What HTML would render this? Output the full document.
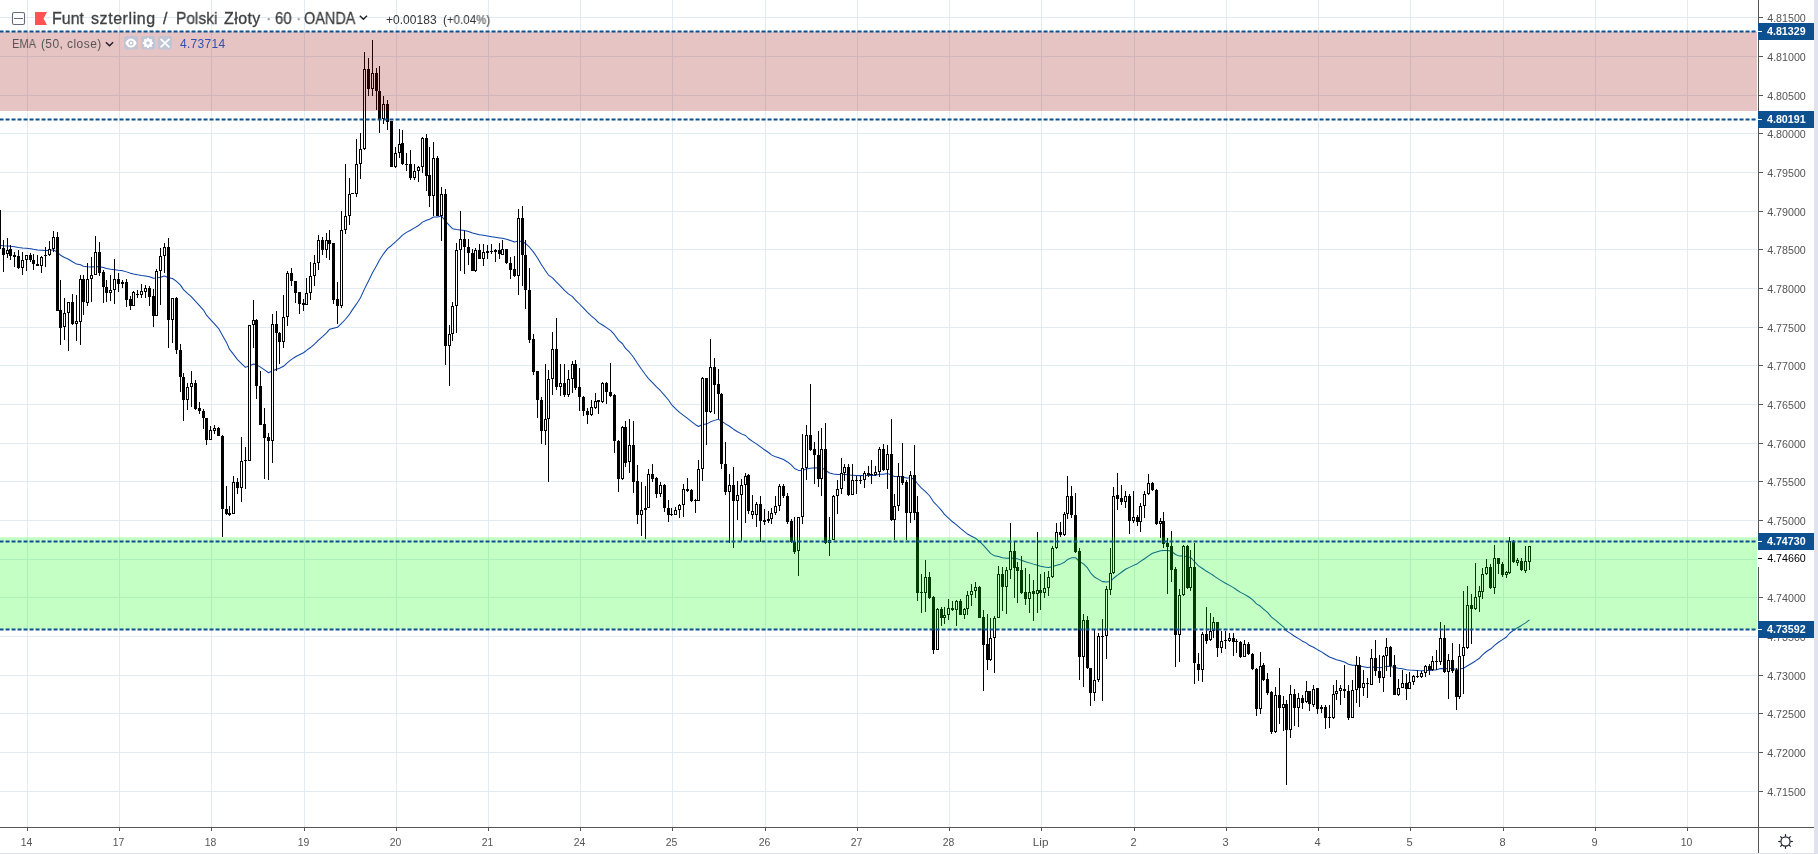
<!DOCTYPE html><html><head><meta charset="utf-8"><title>GBPPLN</title><style>
html,body{margin:0;padding:0;background:#fff;}
body{width:1818px;height:854px;overflow:hidden;position:relative;font-family:"Liberation Sans",sans-serif;}
svg{position:absolute;left:0;top:0;}
.t{position:absolute;white-space:nowrap;line-height:1;transform-origin:0 0;will-change:transform;}
.b{-webkit-text-stroke:0.3px currentColor;}
svg{will-change:transform;}

</style></head><body>
<svg width="1818" height="854" viewBox="0 0 1818 854" font-family="Liberation Sans, sans-serif">
<g stroke="#e1ecf2" stroke-width="1" shape-rendering="crispEdges">
<line x1="27.5" y1="0" x2="27.5" y2="827"/>
<line x1="119.5" y1="0" x2="119.5" y2="827"/>
<line x1="211.5" y1="0" x2="211.5" y2="827"/>
<line x1="304.5" y1="0" x2="304.5" y2="827"/>
<line x1="396.5" y1="0" x2="396.5" y2="827"/>
<line x1="488.5" y1="0" x2="488.5" y2="827"/>
<line x1="580.5" y1="0" x2="580.5" y2="827"/>
<line x1="672.5" y1="0" x2="672.5" y2="827"/>
<line x1="765.5" y1="0" x2="765.5" y2="827"/>
<line x1="857.5" y1="0" x2="857.5" y2="827"/>
<line x1="949.5" y1="0" x2="949.5" y2="827"/>
<line x1="1041.5" y1="0" x2="1041.5" y2="827"/>
<line x1="1134.5" y1="0" x2="1134.5" y2="827"/>
<line x1="1226.5" y1="0" x2="1226.5" y2="827"/>
<line x1="1318.5" y1="0" x2="1318.5" y2="827"/>
<line x1="1410.5" y1="0" x2="1410.5" y2="827"/>
<line x1="1503.5" y1="0" x2="1503.5" y2="827"/>
<line x1="1595.5" y1="0" x2="1595.5" y2="827"/>
<line x1="1687.5" y1="0" x2="1687.5" y2="827"/>
<line x1="0" y1="17.5" x2="1757" y2="17.5"/>
<line x1="0" y1="56.5" x2="1757" y2="56.5"/>
<line x1="0" y1="95.5" x2="1757" y2="95.5"/>
<line x1="0" y1="133.5" x2="1757" y2="133.5"/>
<line x1="0" y1="172.5" x2="1757" y2="172.5"/>
<line x1="0" y1="211.5" x2="1757" y2="211.5"/>
<line x1="0" y1="249.5" x2="1757" y2="249.5"/>
<line x1="0" y1="288.5" x2="1757" y2="288.5"/>
<line x1="0" y1="327.5" x2="1757" y2="327.5"/>
<line x1="0" y1="365.5" x2="1757" y2="365.5"/>
<line x1="0" y1="404.5" x2="1757" y2="404.5"/>
<line x1="0" y1="443.5" x2="1757" y2="443.5"/>
<line x1="0" y1="481.5" x2="1757" y2="481.5"/>
<line x1="0" y1="520.5" x2="1757" y2="520.5"/>
<line x1="0" y1="559.5" x2="1757" y2="559.5"/>
<line x1="0" y1="597.5" x2="1757" y2="597.5"/>
<line x1="0" y1="636.5" x2="1757" y2="636.5"/>
<line x1="0" y1="675.5" x2="1757" y2="675.5"/>
<line x1="0" y1="713.5" x2="1757" y2="713.5"/>
<line x1="0" y1="752.5" x2="1757" y2="752.5"/>
<line x1="0" y1="791.5" x2="1757" y2="791.5"/>
</g>
<polyline points="-3.3,245.20 -0.5,245.40 3.5,245.76 7.5,245.92 10.5,246.30 14.5,246.70 18.5,247.55 22.5,248.02 26.5,248.31 30.5,248.76 33.5,249.34 37.5,249.98 41.5,250.24 45.5,250.47 49.5,250.40 53.5,249.86 57.5,252.24 60.5,255.20 64.5,257.48 68.5,259.24 72.5,261.77 76.5,264.11 80.5,264.70 83.5,266.17 87.5,266.68 91.5,266.99 95.5,266.42 99.5,266.66 103.5,267.48 106.5,268.49 110.5,269.33 114.5,269.70 118.5,270.27 122.5,270.73 126.5,271.87 130.5,273.22 133.5,273.97 137.5,274.78 141.5,275.43 145.5,275.93 149.5,276.74 153.5,278.30 156.5,278.03 160.5,277.17 164.5,276.01 168.5,277.71 172.5,278.53 176.5,281.35 180.5,285.12 183.5,289.61 187.5,293.42 191.5,296.95 195.5,301.33 199.5,305.65 203.5,310.07 206.5,315.15 210.5,319.66 214.5,323.90 218.5,328.30 222.5,335.39 226.5,342.41 229.5,349.17 233.5,354.36 237.5,359.61 241.5,363.57 245.5,367.40 249.5,365.75 253.5,363.96 256.5,364.84 260.5,367.18 264.5,369.95 268.5,372.72 272.5,370.83 276.5,369.35 279.5,368.26 283.5,366.27 287.5,362.60 291.5,359.40 295.5,356.78 299.5,354.70 303.5,352.77 306.5,350.44 310.5,347.52 314.5,344.23 318.5,340.14 322.5,336.62 326.5,332.82 329.5,329.33 333.5,328.16 337.5,327.28 341.5,323.47 345.5,319.26 349.5,314.33 352.5,309.62 356.5,303.91 360.5,297.82 364.5,288.86 368.5,281.00 372.5,272.84 376.5,265.71 379.5,259.94 383.5,253.83 387.5,248.67 391.5,245.48 395.5,241.87 399.5,238.01 402.5,235.11 406.5,232.37 410.5,230.23 414.5,227.92 418.5,225.54 422.5,222.10 426.5,220.30 429.5,219.36 433.5,216.96 437.5,216.92 441.5,216.03 445.5,221.12 449.5,225.56 452.5,228.72 456.5,229.55 460.5,229.93 464.5,230.59 468.5,231.48 472.5,233.01 475.5,233.70 479.5,234.67 483.5,235.36 487.5,236.05 491.5,236.68 495.5,237.27 499.5,237.93 502.5,238.37 506.5,239.35 510.5,240.53 514.5,241.93 518.5,240.98 522.5,241.55 525.5,243.47 529.5,247.24 533.5,252.12 537.5,257.92 541.5,264.73 545.5,270.79 548.5,275.04 552.5,277.93 556.5,282.19 560.5,286.16 564.5,290.41 568.5,293.89 572.5,296.62 575.5,300.19 579.5,304.00 583.5,308.21 587.5,312.39 591.5,316.11 595.5,319.42 598.5,322.66 602.5,325.03 606.5,327.66 610.5,330.33 614.5,334.68 618.5,340.36 622.5,343.74 625.5,348.40 629.5,352.20 633.5,357.29 637.5,363.49 641.5,369.25 645.5,374.70 648.5,378.60 652.5,382.54 656.5,386.89 660.5,390.72 664.5,395.33 668.5,400.02 671.5,404.52 675.5,408.64 679.5,412.40 683.5,415.41 687.5,418.38 691.5,421.63 695.5,424.72 698.5,426.46 702.5,424.58 706.5,424.08 710.5,421.83 714.5,420.37 718.5,419.35 721.5,421.12 725.5,423.89 729.5,426.27 733.5,429.21 737.5,431.79 741.5,433.88 745.5,435.51 748.5,438.49 752.5,441.34 756.5,443.82 760.5,446.85 764.5,449.79 768.5,452.48 771.5,454.84 775.5,456.86 779.5,458.01 783.5,459.51 787.5,461.95 791.5,465.10 794.5,468.51 798.5,470.40 802.5,470.29 806.5,468.90 810.5,468.14 814.5,467.64 818.5,468.09 821.5,467.35 825.5,470.31 829.5,473.03 833.5,473.92 837.5,474.53 841.5,474.48 844.5,474.19 848.5,475.00 852.5,475.19 856.5,475.42 860.5,475.63 864.5,475.54 868.5,475.51 871.5,475.50 875.5,475.38 879.5,474.34 883.5,474.18 887.5,473.39 891.5,475.21 894.5,476.43 898.5,476.43 902.5,476.67 906.5,478.08 910.5,477.97 914.5,479.33 917.5,483.77 921.5,488.07 925.5,491.57 929.5,495.74 933.5,501.80 937.5,506.02 941.5,510.39 944.5,514.49 948.5,518.15 952.5,521.76 956.5,524.88 960.5,528.41 964.5,531.56 967.5,534.06 971.5,536.28 975.5,538.27 979.5,541.38 983.5,545.43 987.5,549.92 990.5,553.35 994.5,555.87 998.5,556.60 1002.5,557.80 1006.5,558.26 1010.5,557.97 1014.5,558.38 1017.5,558.87 1021.5,560.19 1025.5,561.70 1029.5,562.88 1033.5,564.12 1037.5,565.15 1040.5,566.22 1044.5,567.07 1048.5,567.46 1052.5,566.71 1056.5,565.34 1060.5,564.16 1064.5,562.20 1067.5,559.59 1071.5,557.86 1075.5,557.64 1079.5,561.52 1083.5,563.82 1087.5,567.93 1090.5,572.85 1094.5,577.05 1098.5,579.38 1102.5,581.63 1106.5,581.93 1110.5,581.60 1113.5,578.23 1117.5,575.11 1121.5,572.22 1125.5,569.25 1129.5,567.37 1133.5,565.40 1137.5,563.70 1140.5,561.43 1144.5,558.78 1148.5,555.81 1152.5,553.23 1156.5,552.06 1160.5,550.85 1163.5,550.58 1167.5,550.44 1171.5,551.20 1175.5,554.50 1179.5,556.10 1183.5,555.69 1187.5,556.95 1190.5,557.36 1194.5,561.52 1198.5,565.80 1202.5,568.47 1206.5,571.31 1210.5,573.63 1213.5,575.55 1217.5,578.40 1221.5,580.87 1225.5,583.24 1229.5,585.37 1233.5,587.60 1236.5,589.74 1240.5,592.39 1244.5,594.42 1248.5,596.77 1252.5,599.60 1256.5,603.88 1260.5,606.30 1263.5,609.18 1267.5,612.45 1271.5,617.15 1275.5,620.21 1279.5,623.66 1283.5,626.82 1286.5,630.87 1290.5,633.35 1294.5,636.26 1298.5,638.68 1302.5,641.19 1306.5,643.16 1309.5,645.55 1313.5,647.24 1317.5,649.68 1321.5,651.92 1325.5,654.50 1329.5,656.99 1333.5,658.45 1336.5,659.73 1340.5,660.85 1344.5,662.05 1348.5,664.22 1352.5,665.25 1356.5,665.22 1359.5,666.10 1363.5,666.78 1367.5,667.46 1371.5,667.09 1375.5,667.25 1379.5,667.66 1383.5,667.18 1386.5,666.37 1390.5,666.37 1394.5,667.47 1398.5,668.26 1402.5,668.86 1406.5,669.63 1409.5,670.11 1413.5,670.35 1417.5,670.61 1421.5,670.72 1425.5,670.54 1429.5,670.53 1432.5,670.17 1436.5,669.84 1440.5,668.60 1444.5,668.75 1448.5,668.39 1452.5,668.48 1456.5,669.58 1459.5,669.07 1463.5,668.21 1467.5,665.75 1471.5,663.54 1475.5,660.95 1479.5,658.21 1482.5,654.93 1486.5,651.49 1490.5,649.01 1494.5,645.46 1498.5,642.27 1502.5,639.63 1506.5,637.00 1509.5,633.23 1513.5,630.45 1517.5,627.69 1521.5,625.44 1525.5,622.90 1529.5,619.90" fill="none" stroke="#0b43a8" stroke-width="1.02" stroke-linejoin="round"/>
<g shape-rendering="crispEdges" stroke="#000" stroke-width="1">
<line x1="-0.5" y1="210" x2="-0.5" y2="249"/>
<rect x="-1.5" y="210.5" width="2" height="38" fill="#000"/>
<line x1="3.5" y1="240" x2="3.5" y2="272"/>
<rect x="2.5" y="248.5" width="2" height="6" fill="#000"/>
<line x1="7.5" y1="238" x2="7.5" y2="258"/>
<rect x="6.5" y="250.5" width="2" height="3" fill="#fff"/>
<line x1="10.5" y1="245" x2="10.5" y2="260"/>
<rect x="9.5" y="249.5" width="2" height="6" fill="#000"/>
<line x1="14.5" y1="252" x2="14.5" y2="267"/>
<rect x="13.5" y="255.5" width="2" height="1" fill="#000"/>
<line x1="18.5" y1="250" x2="18.5" y2="269"/>
<rect x="17.5" y="256.5" width="2" height="11" fill="#000"/>
<line x1="22.5" y1="252" x2="22.5" y2="275"/>
<rect x="21.5" y="260.5" width="2" height="7" fill="#fff"/>
<line x1="26.5" y1="255" x2="26.5" y2="271"/>
<rect x="25.5" y="255.5" width="2" height="4" fill="#fff"/>
<line x1="30.5" y1="253" x2="30.5" y2="262"/>
<rect x="29.5" y="255.5" width="2" height="4" fill="#000"/>
<line x1="33.5" y1="254" x2="33.5" y2="270"/>
<rect x="32.5" y="260.5" width="2" height="3" fill="#000"/>
<line x1="37.5" y1="255" x2="37.5" y2="266"/>
<rect x="36.5" y="264.5" width="2" height="1" fill="#000"/>
<line x1="41.5" y1="256" x2="41.5" y2="273"/>
<rect x="40.5" y="257.5" width="2" height="8" fill="#fff"/>
<line x1="45.5" y1="247" x2="45.5" y2="267"/>
<rect x="44.5" y="255.5" width="2" height="0.01" fill="#000"/>
<line x1="49.5" y1="241" x2="49.5" y2="256"/>
<rect x="48.5" y="249.5" width="2" height="5" fill="#fff"/>
<line x1="53.5" y1="231" x2="53.5" y2="252"/>
<rect x="52.5" y="237.5" width="2" height="11" fill="#fff"/>
<line x1="57.5" y1="232" x2="57.5" y2="311"/>
<rect x="56.5" y="237.5" width="2" height="73" fill="#000"/>
<line x1="60.5" y1="280" x2="60.5" y2="345"/>
<rect x="59.5" y="310.5" width="2" height="17" fill="#000"/>
<line x1="64.5" y1="298" x2="64.5" y2="340"/>
<rect x="63.5" y="313.5" width="2" height="13" fill="#fff"/>
<line x1="68.5" y1="302" x2="68.5" y2="351"/>
<rect x="67.5" y="302.5" width="2" height="10" fill="#fff"/>
<line x1="72.5" y1="294" x2="72.5" y2="325"/>
<rect x="71.5" y="302.5" width="2" height="21" fill="#000"/>
<line x1="76.5" y1="295" x2="76.5" y2="341"/>
<rect x="75.5" y="321.5" width="2" height="2" fill="#fff"/>
<line x1="80.5" y1="275" x2="80.5" y2="345"/>
<rect x="79.5" y="279.5" width="2" height="42" fill="#fff"/>
<line x1="83.5" y1="275" x2="83.5" y2="315"/>
<rect x="82.5" y="279.5" width="2" height="22" fill="#000"/>
<line x1="87.5" y1="263" x2="87.5" y2="306"/>
<rect x="86.5" y="279.5" width="2" height="23" fill="#fff"/>
<line x1="91.5" y1="257" x2="91.5" y2="302"/>
<rect x="90.5" y="275.5" width="2" height="3" fill="#fff"/>
<line x1="95.5" y1="236" x2="95.5" y2="275"/>
<rect x="94.5" y="252.5" width="2" height="22" fill="#fff"/>
<line x1="99.5" y1="242" x2="99.5" y2="276"/>
<rect x="98.5" y="252.5" width="2" height="20" fill="#000"/>
<line x1="103.5" y1="270" x2="103.5" y2="303"/>
<rect x="102.5" y="272.5" width="2" height="14" fill="#000"/>
<line x1="106.5" y1="280" x2="106.5" y2="302"/>
<rect x="105.5" y="287.5" width="2" height="5" fill="#000"/>
<line x1="110.5" y1="275" x2="110.5" y2="301"/>
<rect x="109.5" y="290.5" width="2" height="2" fill="#fff"/>
<line x1="114.5" y1="259" x2="114.5" y2="304"/>
<rect x="113.5" y="279.5" width="2" height="10" fill="#fff"/>
<line x1="118.5" y1="273" x2="118.5" y2="292"/>
<rect x="117.5" y="279.5" width="2" height="4" fill="#000"/>
<line x1="122.5" y1="280" x2="122.5" y2="288"/>
<rect x="121.5" y="282.5" width="2" height="1" fill="#fff"/>
<line x1="126.5" y1="279" x2="126.5" y2="307"/>
<rect x="125.5" y="282.5" width="2" height="17" fill="#000"/>
<line x1="130.5" y1="296" x2="130.5" y2="310"/>
<rect x="129.5" y="299.5" width="2" height="6" fill="#000"/>
<line x1="133.5" y1="291" x2="133.5" y2="306"/>
<rect x="132.5" y="292.5" width="2" height="13" fill="#fff"/>
<line x1="137.5" y1="290" x2="137.5" y2="298"/>
<rect x="136.5" y="294.5" width="2" height="0.01" fill="#000"/>
<line x1="141.5" y1="284" x2="141.5" y2="298"/>
<rect x="140.5" y="291.5" width="2" height="3" fill="#fff"/>
<line x1="145.5" y1="285" x2="145.5" y2="298"/>
<rect x="144.5" y="288.5" width="2" height="3" fill="#fff"/>
<line x1="149.5" y1="286" x2="149.5" y2="306"/>
<rect x="148.5" y="288.5" width="2" height="8" fill="#000"/>
<line x1="153.5" y1="289" x2="153.5" y2="327"/>
<rect x="152.5" y="296.5" width="2" height="19" fill="#000"/>
<line x1="156.5" y1="269" x2="156.5" y2="316"/>
<rect x="155.5" y="271.5" width="2" height="44" fill="#fff"/>
<line x1="160.5" y1="248" x2="160.5" y2="305"/>
<rect x="159.5" y="256.5" width="2" height="14" fill="#fff"/>
<line x1="164.5" y1="243" x2="164.5" y2="273"/>
<rect x="163.5" y="247.5" width="2" height="8" fill="#fff"/>
<line x1="168.5" y1="238" x2="168.5" y2="348"/>
<rect x="167.5" y="247.5" width="2" height="72" fill="#000"/>
<line x1="172.5" y1="298" x2="172.5" y2="343"/>
<rect x="171.5" y="298.5" width="2" height="21" fill="#fff"/>
<line x1="176.5" y1="297" x2="176.5" y2="354"/>
<rect x="175.5" y="298.5" width="2" height="51" fill="#000"/>
<line x1="180.5" y1="344" x2="180.5" y2="392"/>
<rect x="179.5" y="350.5" width="2" height="26" fill="#000"/>
<line x1="183.5" y1="373" x2="183.5" y2="421"/>
<rect x="182.5" y="377.5" width="2" height="22" fill="#000"/>
<line x1="187.5" y1="383" x2="187.5" y2="410"/>
<rect x="186.5" y="387.5" width="2" height="12" fill="#fff"/>
<line x1="191.5" y1="371" x2="191.5" y2="407"/>
<rect x="190.5" y="383.5" width="2" height="3" fill="#fff"/>
<line x1="195.5" y1="380" x2="195.5" y2="410"/>
<rect x="194.5" y="383.5" width="2" height="25" fill="#000"/>
<line x1="199.5" y1="402" x2="199.5" y2="414"/>
<rect x="198.5" y="408.5" width="2" height="2" fill="#000"/>
<line x1="203.5" y1="409" x2="203.5" y2="429"/>
<rect x="202.5" y="411.5" width="2" height="6" fill="#000"/>
<line x1="206.5" y1="418" x2="206.5" y2="445"/>
<rect x="205.5" y="418.5" width="2" height="21" fill="#000"/>
<line x1="210.5" y1="426" x2="210.5" y2="440"/>
<rect x="209.5" y="430.5" width="2" height="9" fill="#fff"/>
<line x1="214.5" y1="425" x2="214.5" y2="434"/>
<rect x="213.5" y="428.5" width="2" height="2" fill="#fff"/>
<line x1="218.5" y1="427" x2="218.5" y2="436"/>
<rect x="217.5" y="428.5" width="2" height="7" fill="#000"/>
<line x1="222.5" y1="435" x2="222.5" y2="537"/>
<rect x="221.5" y="436.5" width="2" height="72" fill="#000"/>
<line x1="226.5" y1="486" x2="226.5" y2="515"/>
<rect x="225.5" y="509.5" width="2" height="4" fill="#000"/>
<line x1="229.5" y1="506" x2="229.5" y2="516"/>
<rect x="228.5" y="513.5" width="2" height="1" fill="#000"/>
<line x1="233.5" y1="476" x2="233.5" y2="514"/>
<rect x="232.5" y="482.5" width="2" height="31" fill="#fff"/>
<line x1="237.5" y1="478" x2="237.5" y2="494"/>
<rect x="236.5" y="482.5" width="2" height="5" fill="#000"/>
<line x1="241.5" y1="437" x2="241.5" y2="502"/>
<rect x="240.5" y="461.5" width="2" height="26" fill="#fff"/>
<line x1="245.5" y1="447" x2="245.5" y2="489"/>
<rect x="244.5" y="460.5" width="2" height="0.01" fill="#000"/>
<line x1="249.5" y1="325" x2="249.5" y2="461"/>
<rect x="248.5" y="325.5" width="2" height="135" fill="#fff"/>
<line x1="253.5" y1="300" x2="253.5" y2="348"/>
<rect x="252.5" y="320.5" width="2" height="4" fill="#fff"/>
<line x1="256.5" y1="319" x2="256.5" y2="399"/>
<rect x="255.5" y="320.5" width="2" height="65" fill="#000"/>
<line x1="260.5" y1="371" x2="260.5" y2="425"/>
<rect x="259.5" y="386.5" width="2" height="38" fill="#000"/>
<line x1="264.5" y1="408" x2="264.5" y2="479"/>
<rect x="263.5" y="424.5" width="2" height="13" fill="#000"/>
<line x1="268.5" y1="433" x2="268.5" y2="480"/>
<rect x="267.5" y="437.5" width="2" height="3" fill="#000"/>
<line x1="272.5" y1="314" x2="272.5" y2="463"/>
<rect x="271.5" y="324.5" width="2" height="116" fill="#fff"/>
<line x1="276.5" y1="311" x2="276.5" y2="371"/>
<rect x="275.5" y="324.5" width="2" height="8" fill="#000"/>
<line x1="279.5" y1="332" x2="279.5" y2="364"/>
<rect x="278.5" y="333.5" width="2" height="8" fill="#000"/>
<line x1="283.5" y1="295" x2="283.5" y2="348"/>
<rect x="282.5" y="317.5" width="2" height="24" fill="#fff"/>
<line x1="287.5" y1="271" x2="287.5" y2="326"/>
<rect x="286.5" y="273.5" width="2" height="43" fill="#fff"/>
<line x1="291.5" y1="268" x2="291.5" y2="286"/>
<rect x="290.5" y="273.5" width="2" height="7" fill="#000"/>
<line x1="295.5" y1="281" x2="295.5" y2="303"/>
<rect x="294.5" y="281.5" width="2" height="11" fill="#000"/>
<line x1="299.5" y1="292" x2="299.5" y2="314"/>
<rect x="298.5" y="292.5" width="2" height="11" fill="#000"/>
<line x1="303.5" y1="299" x2="303.5" y2="311"/>
<rect x="302.5" y="303.5" width="2" height="1" fill="#000"/>
<line x1="306.5" y1="278" x2="306.5" y2="305"/>
<rect x="305.5" y="293.5" width="2" height="11" fill="#fff"/>
<line x1="310.5" y1="262" x2="310.5" y2="300"/>
<rect x="309.5" y="276.5" width="2" height="16" fill="#fff"/>
<line x1="314.5" y1="255" x2="314.5" y2="286"/>
<rect x="313.5" y="263.5" width="2" height="12" fill="#fff"/>
<line x1="318.5" y1="235" x2="318.5" y2="270"/>
<rect x="317.5" y="240.5" width="2" height="22" fill="#fff"/>
<line x1="322.5" y1="237" x2="322.5" y2="255"/>
<rect x="321.5" y="240.5" width="2" height="9" fill="#000"/>
<line x1="326.5" y1="233" x2="326.5" y2="258"/>
<rect x="325.5" y="240.5" width="2" height="9" fill="#fff"/>
<line x1="329.5" y1="230" x2="329.5" y2="260"/>
<rect x="328.5" y="240.5" width="2" height="3" fill="#000"/>
<line x1="333.5" y1="243" x2="333.5" y2="304"/>
<rect x="332.5" y="243.5" width="2" height="56" fill="#000"/>
<line x1="337.5" y1="282" x2="337.5" y2="324"/>
<rect x="336.5" y="299.5" width="2" height="6" fill="#000"/>
<line x1="341.5" y1="211" x2="341.5" y2="308"/>
<rect x="340.5" y="230.5" width="2" height="75" fill="#fff"/>
<line x1="345.5" y1="164" x2="345.5" y2="234"/>
<rect x="344.5" y="216.5" width="2" height="13" fill="#fff"/>
<line x1="349.5" y1="178" x2="349.5" y2="225"/>
<rect x="348.5" y="194.5" width="2" height="21" fill="#fff"/>
<line x1="352.5" y1="193" x2="352.5" y2="194"/>
<rect x="351.5" y="193.5" width="2" height="0.01" fill="#000"/>
<line x1="356.5" y1="139" x2="356.5" y2="197"/>
<rect x="355.5" y="164.5" width="2" height="29" fill="#fff"/>
<line x1="360.5" y1="133" x2="360.5" y2="179"/>
<rect x="359.5" y="149.5" width="2" height="14" fill="#fff"/>
<line x1="364.5" y1="52" x2="364.5" y2="150"/>
<rect x="363.5" y="69.5" width="2" height="79" fill="#fff"/>
<line x1="368.5" y1="58" x2="368.5" y2="96"/>
<rect x="367.5" y="69.5" width="2" height="19" fill="#000"/>
<line x1="372.5" y1="40" x2="372.5" y2="96"/>
<rect x="371.5" y="73.5" width="2" height="15" fill="#fff"/>
<line x1="376.5" y1="68" x2="376.5" y2="110"/>
<rect x="375.5" y="73.5" width="2" height="17" fill="#000"/>
<line x1="379.5" y1="66" x2="379.5" y2="133"/>
<rect x="378.5" y="91.5" width="2" height="27" fill="#000"/>
<line x1="383.5" y1="96" x2="383.5" y2="124"/>
<rect x="382.5" y="104.5" width="2" height="14" fill="#fff"/>
<line x1="387.5" y1="100" x2="387.5" y2="130"/>
<rect x="386.5" y="104.5" width="2" height="17" fill="#000"/>
<line x1="391.5" y1="121" x2="391.5" y2="167"/>
<rect x="390.5" y="121.5" width="2" height="45" fill="#000"/>
<line x1="395.5" y1="147" x2="395.5" y2="168"/>
<rect x="394.5" y="153.5" width="2" height="13" fill="#fff"/>
<line x1="399.5" y1="129" x2="399.5" y2="158"/>
<rect x="398.5" y="144.5" width="2" height="8" fill="#fff"/>
<line x1="402.5" y1="130" x2="402.5" y2="165"/>
<rect x="401.5" y="143.5" width="2" height="20" fill="#000"/>
<line x1="406.5" y1="153" x2="406.5" y2="171"/>
<rect x="405.5" y="164.5" width="2" height="0.01" fill="#000"/>
<line x1="410.5" y1="150" x2="410.5" y2="180"/>
<rect x="409.5" y="164.5" width="2" height="13" fill="#000"/>
<line x1="414.5" y1="164" x2="414.5" y2="180"/>
<rect x="413.5" y="171.5" width="2" height="6" fill="#fff"/>
<line x1="418.5" y1="166" x2="418.5" y2="182"/>
<rect x="417.5" y="167.5" width="2" height="3" fill="#fff"/>
<line x1="422.5" y1="137" x2="422.5" y2="173"/>
<rect x="421.5" y="138.5" width="2" height="28" fill="#fff"/>
<line x1="426.5" y1="134" x2="426.5" y2="191"/>
<rect x="425.5" y="138.5" width="2" height="37" fill="#000"/>
<line x1="429.5" y1="147" x2="429.5" y2="207"/>
<rect x="428.5" y="175.5" width="2" height="20" fill="#000"/>
<line x1="433.5" y1="142" x2="433.5" y2="216"/>
<rect x="432.5" y="158.5" width="2" height="37" fill="#fff"/>
<line x1="437.5" y1="156" x2="437.5" y2="216"/>
<rect x="436.5" y="158.5" width="2" height="57" fill="#000"/>
<line x1="441.5" y1="187" x2="441.5" y2="241"/>
<rect x="440.5" y="194.5" width="2" height="21" fill="#fff"/>
<line x1="445.5" y1="189" x2="445.5" y2="365"/>
<rect x="444.5" y="194.5" width="2" height="151" fill="#000"/>
<line x1="449.5" y1="325" x2="449.5" y2="386"/>
<rect x="448.5" y="334.5" width="2" height="11" fill="#fff"/>
<line x1="452.5" y1="302" x2="452.5" y2="341"/>
<rect x="451.5" y="306.5" width="2" height="27" fill="#fff"/>
<line x1="456.5" y1="243" x2="456.5" y2="333"/>
<rect x="455.5" y="250.5" width="2" height="55" fill="#fff"/>
<line x1="460.5" y1="211" x2="460.5" y2="271"/>
<rect x="459.5" y="239.5" width="2" height="10" fill="#fff"/>
<line x1="464.5" y1="231" x2="464.5" y2="274"/>
<rect x="463.5" y="239.5" width="2" height="7" fill="#000"/>
<line x1="468.5" y1="239" x2="468.5" y2="265"/>
<rect x="467.5" y="247.5" width="2" height="5" fill="#000"/>
<line x1="472.5" y1="249" x2="472.5" y2="271"/>
<rect x="471.5" y="253.5" width="2" height="17" fill="#000"/>
<line x1="475.5" y1="248" x2="475.5" y2="272"/>
<rect x="474.5" y="250.5" width="2" height="20" fill="#fff"/>
<line x1="479.5" y1="244" x2="479.5" y2="259"/>
<rect x="478.5" y="250.5" width="2" height="8" fill="#000"/>
<line x1="483.5" y1="244" x2="483.5" y2="266"/>
<rect x="482.5" y="252.5" width="2" height="6" fill="#fff"/>
<line x1="487.5" y1="245" x2="487.5" y2="259"/>
<rect x="486.5" y="251.5" width="2" height="1" fill="#000"/>
<line x1="491.5" y1="244" x2="491.5" y2="254"/>
<rect x="490.5" y="251.5" width="2" height="0.01" fill="#000"/>
<line x1="495.5" y1="249" x2="495.5" y2="262"/>
<rect x="494.5" y="250.5" width="2" height="1" fill="#000"/>
<line x1="499.5" y1="243" x2="499.5" y2="259"/>
<rect x="498.5" y="250.5" width="2" height="3" fill="#000"/>
<line x1="502.5" y1="240" x2="502.5" y2="255"/>
<rect x="501.5" y="249.5" width="2" height="5" fill="#fff"/>
<line x1="506.5" y1="249" x2="506.5" y2="264"/>
<rect x="505.5" y="249.5" width="2" height="13" fill="#000"/>
<line x1="510.5" y1="257" x2="510.5" y2="279"/>
<rect x="509.5" y="263.5" width="2" height="6" fill="#000"/>
<line x1="514.5" y1="256" x2="514.5" y2="277"/>
<rect x="513.5" y="269.5" width="2" height="6" fill="#000"/>
<line x1="518.5" y1="209" x2="518.5" y2="295"/>
<rect x="517.5" y="218.5" width="2" height="57" fill="#fff"/>
<line x1="522.5" y1="206" x2="522.5" y2="286"/>
<rect x="521.5" y="218.5" width="2" height="36" fill="#000"/>
<line x1="525.5" y1="240" x2="525.5" y2="309"/>
<rect x="524.5" y="255.5" width="2" height="34" fill="#000"/>
<line x1="529.5" y1="268" x2="529.5" y2="343"/>
<rect x="528.5" y="290.5" width="2" height="49" fill="#000"/>
<line x1="533.5" y1="334" x2="533.5" y2="375"/>
<rect x="532.5" y="339.5" width="2" height="32" fill="#000"/>
<line x1="537.5" y1="371" x2="537.5" y2="418"/>
<rect x="536.5" y="371.5" width="2" height="28" fill="#000"/>
<line x1="541.5" y1="397" x2="541.5" y2="444"/>
<rect x="540.5" y="400.5" width="2" height="30" fill="#000"/>
<line x1="545.5" y1="364" x2="545.5" y2="445"/>
<rect x="544.5" y="419.5" width="2" height="11" fill="#fff"/>
<line x1="548.5" y1="370" x2="548.5" y2="482"/>
<rect x="547.5" y="379.5" width="2" height="39" fill="#fff"/>
<line x1="552.5" y1="332" x2="552.5" y2="395"/>
<rect x="551.5" y="349.5" width="2" height="29" fill="#fff"/>
<line x1="556.5" y1="318" x2="556.5" y2="390"/>
<rect x="555.5" y="349.5" width="2" height="37" fill="#000"/>
<line x1="560.5" y1="364" x2="560.5" y2="396"/>
<rect x="559.5" y="383.5" width="2" height="3" fill="#fff"/>
<line x1="564.5" y1="364" x2="564.5" y2="397"/>
<rect x="563.5" y="383.5" width="2" height="11" fill="#000"/>
<line x1="568.5" y1="370" x2="568.5" y2="397"/>
<rect x="567.5" y="379.5" width="2" height="15" fill="#fff"/>
<line x1="572.5" y1="361" x2="572.5" y2="393"/>
<rect x="571.5" y="364.5" width="2" height="14" fill="#fff"/>
<line x1="575.5" y1="360" x2="575.5" y2="390"/>
<rect x="574.5" y="364.5" width="2" height="23" fill="#000"/>
<line x1="579.5" y1="368" x2="579.5" y2="411"/>
<rect x="578.5" y="387.5" width="2" height="9" fill="#000"/>
<line x1="583.5" y1="396" x2="583.5" y2="416"/>
<rect x="582.5" y="397.5" width="2" height="13" fill="#000"/>
<line x1="587.5" y1="408" x2="587.5" y2="424"/>
<rect x="586.5" y="411.5" width="2" height="3" fill="#000"/>
<line x1="591.5" y1="400" x2="591.5" y2="416"/>
<rect x="590.5" y="407.5" width="2" height="7" fill="#fff"/>
<line x1="595.5" y1="393" x2="595.5" y2="409"/>
<rect x="594.5" y="401.5" width="2" height="6" fill="#fff"/>
<line x1="598.5" y1="400" x2="598.5" y2="414"/>
<rect x="597.5" y="400.5" width="2" height="1" fill="#000"/>
<line x1="602.5" y1="382" x2="602.5" y2="403"/>
<rect x="601.5" y="383.5" width="2" height="18" fill="#fff"/>
<line x1="606.5" y1="382" x2="606.5" y2="404"/>
<rect x="605.5" y="383.5" width="2" height="8" fill="#000"/>
<line x1="610.5" y1="363" x2="610.5" y2="397"/>
<rect x="609.5" y="392.5" width="2" height="3" fill="#000"/>
<line x1="614.5" y1="394" x2="614.5" y2="453"/>
<rect x="613.5" y="395.5" width="2" height="45" fill="#000"/>
<line x1="618.5" y1="440" x2="618.5" y2="492"/>
<rect x="617.5" y="441.5" width="2" height="37" fill="#000"/>
<line x1="622.5" y1="426" x2="622.5" y2="480"/>
<rect x="621.5" y="427.5" width="2" height="51" fill="#fff"/>
<line x1="625.5" y1="421" x2="625.5" y2="467"/>
<rect x="624.5" y="427.5" width="2" height="35" fill="#000"/>
<line x1="629.5" y1="419" x2="629.5" y2="473"/>
<rect x="628.5" y="445.5" width="2" height="16" fill="#fff"/>
<line x1="633.5" y1="421" x2="633.5" y2="493"/>
<rect x="632.5" y="445.5" width="2" height="36" fill="#000"/>
<line x1="637.5" y1="465" x2="637.5" y2="524"/>
<rect x="636.5" y="481.5" width="2" height="33" fill="#000"/>
<line x1="641.5" y1="482" x2="641.5" y2="536"/>
<rect x="640.5" y="510.5" width="2" height="4" fill="#fff"/>
<line x1="645.5" y1="486" x2="645.5" y2="539"/>
<rect x="644.5" y="508.5" width="2" height="1" fill="#fff"/>
<line x1="648.5" y1="469" x2="648.5" y2="508"/>
<rect x="647.5" y="474.5" width="2" height="33" fill="#fff"/>
<line x1="652.5" y1="464" x2="652.5" y2="482"/>
<rect x="651.5" y="474.5" width="2" height="4" fill="#000"/>
<line x1="656.5" y1="477" x2="656.5" y2="498"/>
<rect x="655.5" y="478.5" width="2" height="15" fill="#000"/>
<line x1="660.5" y1="482" x2="660.5" y2="497"/>
<rect x="659.5" y="485.5" width="2" height="8" fill="#fff"/>
<line x1="664.5" y1="484" x2="664.5" y2="512"/>
<rect x="663.5" y="485.5" width="2" height="22" fill="#000"/>
<line x1="668.5" y1="500" x2="668.5" y2="522"/>
<rect x="667.5" y="508.5" width="2" height="6" fill="#000"/>
<line x1="671.5" y1="508" x2="671.5" y2="516"/>
<rect x="670.5" y="514.5" width="2" height="0.01" fill="#000"/>
<line x1="675.5" y1="507" x2="675.5" y2="515"/>
<rect x="674.5" y="510.5" width="2" height="4" fill="#fff"/>
<line x1="679.5" y1="504" x2="679.5" y2="518"/>
<rect x="678.5" y="505.5" width="2" height="4" fill="#fff"/>
<line x1="683.5" y1="484" x2="683.5" y2="517"/>
<rect x="682.5" y="489.5" width="2" height="15" fill="#fff"/>
<line x1="687.5" y1="478" x2="687.5" y2="492"/>
<rect x="686.5" y="489.5" width="2" height="1" fill="#000"/>
<line x1="691.5" y1="489" x2="691.5" y2="502"/>
<rect x="690.5" y="490.5" width="2" height="10" fill="#000"/>
<line x1="695.5" y1="499" x2="695.5" y2="513"/>
<rect x="694.5" y="500.5" width="2" height="0.01" fill="#000"/>
<line x1="698.5" y1="460" x2="698.5" y2="501"/>
<rect x="697.5" y="469.5" width="2" height="31" fill="#fff"/>
<line x1="702.5" y1="377" x2="702.5" y2="481"/>
<rect x="701.5" y="378.5" width="2" height="90" fill="#fff"/>
<line x1="706.5" y1="378" x2="706.5" y2="445"/>
<rect x="705.5" y="378.5" width="2" height="33" fill="#000"/>
<line x1="710.5" y1="339" x2="710.5" y2="413"/>
<rect x="709.5" y="367.5" width="2" height="44" fill="#fff"/>
<line x1="714.5" y1="358" x2="714.5" y2="414"/>
<rect x="713.5" y="367.5" width="2" height="17" fill="#000"/>
<line x1="718.5" y1="369" x2="718.5" y2="419"/>
<rect x="717.5" y="384.5" width="2" height="9" fill="#000"/>
<line x1="721.5" y1="393" x2="721.5" y2="469"/>
<rect x="720.5" y="394.5" width="2" height="69" fill="#000"/>
<line x1="725.5" y1="442" x2="725.5" y2="495"/>
<rect x="724.5" y="464.5" width="2" height="27" fill="#000"/>
<line x1="729.5" y1="474" x2="729.5" y2="543"/>
<rect x="728.5" y="485.5" width="2" height="6" fill="#fff"/>
<line x1="733.5" y1="467" x2="733.5" y2="548"/>
<rect x="732.5" y="485.5" width="2" height="15" fill="#000"/>
<line x1="737.5" y1="481" x2="737.5" y2="520"/>
<rect x="736.5" y="495.5" width="2" height="5" fill="#fff"/>
<line x1="741.5" y1="479" x2="741.5" y2="541"/>
<rect x="740.5" y="485.5" width="2" height="9" fill="#fff"/>
<line x1="745.5" y1="473" x2="745.5" y2="523"/>
<rect x="744.5" y="476.5" width="2" height="8" fill="#fff"/>
<line x1="748.5" y1="474" x2="748.5" y2="514"/>
<rect x="747.5" y="475.5" width="2" height="35" fill="#000"/>
<line x1="752.5" y1="495" x2="752.5" y2="519"/>
<rect x="751.5" y="511.5" width="2" height="3" fill="#fff"/>
<line x1="756.5" y1="502" x2="756.5" y2="527"/>
<rect x="755.5" y="504.5" width="2" height="10" fill="#fff"/>
<line x1="760.5" y1="496" x2="760.5" y2="542"/>
<rect x="759.5" y="504.5" width="2" height="16" fill="#000"/>
<line x1="764.5" y1="509" x2="764.5" y2="525"/>
<rect x="763.5" y="520.5" width="2" height="1" fill="#000"/>
<line x1="768.5" y1="511" x2="768.5" y2="523"/>
<rect x="767.5" y="519.5" width="2" height="1" fill="#fff"/>
<line x1="771.5" y1="508" x2="771.5" y2="524"/>
<rect x="770.5" y="513.5" width="2" height="5" fill="#fff"/>
<line x1="775.5" y1="496" x2="775.5" y2="515"/>
<rect x="774.5" y="506.5" width="2" height="6" fill="#fff"/>
<line x1="779.5" y1="484" x2="779.5" y2="511"/>
<rect x="778.5" y="486.5" width="2" height="19" fill="#fff"/>
<line x1="783.5" y1="484" x2="783.5" y2="498"/>
<rect x="782.5" y="486.5" width="2" height="9" fill="#000"/>
<line x1="787.5" y1="493" x2="787.5" y2="524"/>
<rect x="786.5" y="496.5" width="2" height="25" fill="#000"/>
<line x1="791.5" y1="519" x2="791.5" y2="543"/>
<rect x="790.5" y="521.5" width="2" height="20" fill="#000"/>
<line x1="794.5" y1="517" x2="794.5" y2="554"/>
<rect x="793.5" y="542.5" width="2" height="9" fill="#000"/>
<line x1="798.5" y1="517" x2="798.5" y2="576"/>
<rect x="797.5" y="517.5" width="2" height="33" fill="#fff"/>
<line x1="802.5" y1="434" x2="802.5" y2="524"/>
<rect x="801.5" y="468.5" width="2" height="48" fill="#fff"/>
<line x1="806.5" y1="425" x2="806.5" y2="480"/>
<rect x="805.5" y="435.5" width="2" height="32" fill="#fff"/>
<line x1="810.5" y1="384" x2="810.5" y2="451"/>
<rect x="809.5" y="435.5" width="2" height="14" fill="#000"/>
<line x1="814.5" y1="442" x2="814.5" y2="484"/>
<rect x="813.5" y="449.5" width="2" height="5" fill="#000"/>
<line x1="818.5" y1="431" x2="818.5" y2="487"/>
<rect x="817.5" y="455.5" width="2" height="23" fill="#000"/>
<line x1="821.5" y1="428" x2="821.5" y2="496"/>
<rect x="820.5" y="449.5" width="2" height="29" fill="#fff"/>
<line x1="825.5" y1="423" x2="825.5" y2="544"/>
<rect x="824.5" y="449.5" width="2" height="93" fill="#000"/>
<line x1="829.5" y1="517" x2="829.5" y2="556"/>
<rect x="828.5" y="540.5" width="2" height="2" fill="#fff"/>
<line x1="833.5" y1="495" x2="833.5" y2="540"/>
<rect x="832.5" y="496.5" width="2" height="43" fill="#fff"/>
<line x1="837.5" y1="480" x2="837.5" y2="514"/>
<rect x="836.5" y="489.5" width="2" height="6" fill="#fff"/>
<line x1="841.5" y1="458" x2="841.5" y2="494"/>
<rect x="840.5" y="473.5" width="2" height="15" fill="#fff"/>
<line x1="844.5" y1="464" x2="844.5" y2="481"/>
<rect x="843.5" y="467.5" width="2" height="5" fill="#fff"/>
<line x1="848.5" y1="464" x2="848.5" y2="496"/>
<rect x="847.5" y="467.5" width="2" height="27" fill="#000"/>
<line x1="852.5" y1="464" x2="852.5" y2="495"/>
<rect x="851.5" y="480.5" width="2" height="14" fill="#fff"/>
<line x1="856.5" y1="476" x2="856.5" y2="494"/>
<rect x="855.5" y="480.5" width="2" height="0.01" fill="#000"/>
<line x1="860.5" y1="476" x2="860.5" y2="484"/>
<rect x="859.5" y="480.5" width="2" height="0.01" fill="#000"/>
<line x1="864.5" y1="471" x2="864.5" y2="488"/>
<rect x="863.5" y="473.5" width="2" height="6" fill="#fff"/>
<line x1="868.5" y1="466" x2="868.5" y2="477"/>
<rect x="867.5" y="473.5" width="2" height="1" fill="#000"/>
<line x1="871.5" y1="460" x2="871.5" y2="484"/>
<rect x="870.5" y="474.5" width="2" height="0.01" fill="#000"/>
<line x1="875.5" y1="466" x2="875.5" y2="476"/>
<rect x="874.5" y="472.5" width="2" height="2" fill="#fff"/>
<line x1="879.5" y1="447" x2="879.5" y2="477"/>
<rect x="878.5" y="449.5" width="2" height="22" fill="#fff"/>
<line x1="883.5" y1="444" x2="883.5" y2="471"/>
<rect x="882.5" y="449.5" width="2" height="20" fill="#000"/>
<line x1="887.5" y1="445" x2="887.5" y2="489"/>
<rect x="886.5" y="454.5" width="2" height="15" fill="#fff"/>
<line x1="891.5" y1="419" x2="891.5" y2="521"/>
<rect x="890.5" y="454.5" width="2" height="65" fill="#000"/>
<line x1="894.5" y1="494" x2="894.5" y2="540"/>
<rect x="893.5" y="506.5" width="2" height="13" fill="#fff"/>
<line x1="898.5" y1="463" x2="898.5" y2="511"/>
<rect x="897.5" y="476.5" width="2" height="29" fill="#fff"/>
<line x1="902.5" y1="443" x2="902.5" y2="485"/>
<rect x="901.5" y="476.5" width="2" height="6" fill="#000"/>
<line x1="906.5" y1="480" x2="906.5" y2="540"/>
<rect x="905.5" y="482.5" width="2" height="30" fill="#000"/>
<line x1="910.5" y1="471" x2="910.5" y2="523"/>
<rect x="909.5" y="475.5" width="2" height="37" fill="#fff"/>
<line x1="914.5" y1="445" x2="914.5" y2="520"/>
<rect x="913.5" y="475.5" width="2" height="37" fill="#000"/>
<line x1="917.5" y1="496" x2="917.5" y2="601"/>
<rect x="916.5" y="512.5" width="2" height="80" fill="#000"/>
<line x1="921.5" y1="574" x2="921.5" y2="613"/>
<rect x="920.5" y="592.5" width="2" height="0.01" fill="#000"/>
<line x1="925.5" y1="560" x2="925.5" y2="612"/>
<rect x="924.5" y="577.5" width="2" height="15" fill="#fff"/>
<line x1="929.5" y1="572" x2="929.5" y2="599"/>
<rect x="928.5" y="577.5" width="2" height="20" fill="#000"/>
<line x1="933.5" y1="596" x2="933.5" y2="654"/>
<rect x="932.5" y="597.5" width="2" height="52" fill="#000"/>
<line x1="937.5" y1="608" x2="937.5" y2="650"/>
<rect x="936.5" y="609.5" width="2" height="40" fill="#fff"/>
<line x1="941.5" y1="607" x2="941.5" y2="626"/>
<rect x="940.5" y="609.5" width="2" height="8" fill="#000"/>
<line x1="944.5" y1="607" x2="944.5" y2="624"/>
<rect x="943.5" y="615.5" width="2" height="2" fill="#fff"/>
<line x1="948.5" y1="599" x2="948.5" y2="620"/>
<rect x="947.5" y="608.5" width="2" height="6" fill="#fff"/>
<line x1="952.5" y1="601" x2="952.5" y2="611"/>
<rect x="951.5" y="608.5" width="2" height="1" fill="#000"/>
<line x1="956.5" y1="600" x2="956.5" y2="626"/>
<rect x="955.5" y="601.5" width="2" height="8" fill="#fff"/>
<line x1="960.5" y1="599" x2="960.5" y2="615"/>
<rect x="959.5" y="601.5" width="2" height="13" fill="#000"/>
<line x1="964.5" y1="608" x2="964.5" y2="619"/>
<rect x="963.5" y="609.5" width="2" height="5" fill="#fff"/>
<line x1="967.5" y1="591" x2="967.5" y2="615"/>
<rect x="966.5" y="595.5" width="2" height="13" fill="#fff"/>
<line x1="971.5" y1="584" x2="971.5" y2="606"/>
<rect x="970.5" y="591.5" width="2" height="3" fill="#fff"/>
<line x1="975.5" y1="582" x2="975.5" y2="598"/>
<rect x="974.5" y="587.5" width="2" height="3" fill="#fff"/>
<line x1="979.5" y1="586" x2="979.5" y2="618"/>
<rect x="978.5" y="587.5" width="2" height="30" fill="#000"/>
<line x1="983.5" y1="610" x2="983.5" y2="691"/>
<rect x="982.5" y="617.5" width="2" height="27" fill="#000"/>
<line x1="987.5" y1="614" x2="987.5" y2="670"/>
<rect x="986.5" y="644.5" width="2" height="15" fill="#000"/>
<line x1="990.5" y1="618" x2="990.5" y2="661"/>
<rect x="989.5" y="638.5" width="2" height="21" fill="#fff"/>
<line x1="994.5" y1="616" x2="994.5" y2="673"/>
<rect x="993.5" y="618.5" width="2" height="19" fill="#fff"/>
<line x1="998.5" y1="566" x2="998.5" y2="618"/>
<rect x="997.5" y="574.5" width="2" height="43" fill="#fff"/>
<line x1="1002.5" y1="567" x2="1002.5" y2="611"/>
<rect x="1001.5" y="574.5" width="2" height="12" fill="#000"/>
<line x1="1006.5" y1="567" x2="1006.5" y2="614"/>
<rect x="1005.5" y="570.5" width="2" height="16" fill="#fff"/>
<line x1="1010.5" y1="523" x2="1010.5" y2="579"/>
<rect x="1009.5" y="551.5" width="2" height="18" fill="#fff"/>
<line x1="1014.5" y1="541" x2="1014.5" y2="598"/>
<rect x="1013.5" y="551.5" width="2" height="16" fill="#000"/>
<line x1="1017.5" y1="562" x2="1017.5" y2="603"/>
<rect x="1016.5" y="567.5" width="2" height="3" fill="#000"/>
<line x1="1021.5" y1="556" x2="1021.5" y2="594"/>
<rect x="1020.5" y="570.5" width="2" height="22" fill="#000"/>
<line x1="1025.5" y1="568" x2="1025.5" y2="605"/>
<rect x="1024.5" y="592.5" width="2" height="6" fill="#000"/>
<line x1="1029.5" y1="574" x2="1029.5" y2="613"/>
<rect x="1028.5" y="592.5" width="2" height="6" fill="#fff"/>
<line x1="1033.5" y1="580" x2="1033.5" y2="621"/>
<rect x="1032.5" y="591.5" width="2" height="2" fill="#000"/>
<line x1="1037.5" y1="532" x2="1037.5" y2="613"/>
<rect x="1036.5" y="590.5" width="2" height="3" fill="#fff"/>
<line x1="1040.5" y1="574" x2="1040.5" y2="610"/>
<rect x="1039.5" y="590.5" width="2" height="2" fill="#000"/>
<line x1="1044.5" y1="572" x2="1044.5" y2="598"/>
<rect x="1043.5" y="588.5" width="2" height="4" fill="#fff"/>
<line x1="1048.5" y1="571" x2="1048.5" y2="596"/>
<rect x="1047.5" y="577.5" width="2" height="10" fill="#fff"/>
<line x1="1052.5" y1="546" x2="1052.5" y2="578"/>
<rect x="1051.5" y="548.5" width="2" height="28" fill="#fff"/>
<line x1="1056.5" y1="523" x2="1056.5" y2="549"/>
<rect x="1055.5" y="532.5" width="2" height="15" fill="#fff"/>
<line x1="1060.5" y1="522" x2="1060.5" y2="537"/>
<rect x="1059.5" y="532.5" width="2" height="2" fill="#000"/>
<line x1="1064.5" y1="512" x2="1064.5" y2="536"/>
<rect x="1063.5" y="514.5" width="2" height="20" fill="#fff"/>
<line x1="1067.5" y1="476" x2="1067.5" y2="519"/>
<rect x="1066.5" y="496.5" width="2" height="17" fill="#fff"/>
<line x1="1071.5" y1="486" x2="1071.5" y2="518"/>
<rect x="1070.5" y="496.5" width="2" height="18" fill="#000"/>
<line x1="1075.5" y1="493" x2="1075.5" y2="553"/>
<rect x="1074.5" y="515.5" width="2" height="36" fill="#000"/>
<line x1="1079.5" y1="548" x2="1079.5" y2="680"/>
<rect x="1078.5" y="551.5" width="2" height="105" fill="#000"/>
<line x1="1083.5" y1="614" x2="1083.5" y2="687"/>
<rect x="1082.5" y="620.5" width="2" height="36" fill="#fff"/>
<line x1="1087.5" y1="616" x2="1087.5" y2="669"/>
<rect x="1086.5" y="620.5" width="2" height="47" fill="#000"/>
<line x1="1090.5" y1="668" x2="1090.5" y2="706"/>
<rect x="1089.5" y="668.5" width="2" height="24" fill="#000"/>
<line x1="1094.5" y1="630" x2="1094.5" y2="701"/>
<rect x="1093.5" y="680.5" width="2" height="12" fill="#fff"/>
<line x1="1098.5" y1="633" x2="1098.5" y2="682"/>
<rect x="1097.5" y="636.5" width="2" height="43" fill="#fff"/>
<line x1="1102.5" y1="619" x2="1102.5" y2="701"/>
<rect x="1101.5" y="636.5" width="2" height="0.01" fill="#000"/>
<line x1="1106.5" y1="586" x2="1106.5" y2="659"/>
<rect x="1105.5" y="589.5" width="2" height="46" fill="#fff"/>
<line x1="1110.5" y1="548" x2="1110.5" y2="595"/>
<rect x="1109.5" y="573.5" width="2" height="16" fill="#fff"/>
<line x1="1113.5" y1="487" x2="1113.5" y2="574"/>
<rect x="1112.5" y="496.5" width="2" height="76" fill="#fff"/>
<line x1="1117.5" y1="473" x2="1117.5" y2="510"/>
<rect x="1116.5" y="495.5" width="2" height="3" fill="#000"/>
<line x1="1121.5" y1="485" x2="1121.5" y2="505"/>
<rect x="1120.5" y="498.5" width="2" height="3" fill="#000"/>
<line x1="1125.5" y1="491" x2="1125.5" y2="508"/>
<rect x="1124.5" y="496.5" width="2" height="5" fill="#fff"/>
<line x1="1129.5" y1="494" x2="1129.5" y2="534"/>
<rect x="1128.5" y="496.5" width="2" height="24" fill="#000"/>
<line x1="1133.5" y1="491" x2="1133.5" y2="523"/>
<rect x="1132.5" y="517.5" width="2" height="3" fill="#fff"/>
<line x1="1137.5" y1="515" x2="1137.5" y2="526"/>
<rect x="1136.5" y="517.5" width="2" height="4" fill="#000"/>
<line x1="1140.5" y1="503" x2="1140.5" y2="532"/>
<rect x="1139.5" y="506.5" width="2" height="15" fill="#fff"/>
<line x1="1144.5" y1="491" x2="1144.5" y2="518"/>
<rect x="1143.5" y="494.5" width="2" height="11" fill="#fff"/>
<line x1="1148.5" y1="474" x2="1148.5" y2="495"/>
<rect x="1147.5" y="483.5" width="2" height="10" fill="#fff"/>
<line x1="1152.5" y1="482" x2="1152.5" y2="491"/>
<rect x="1151.5" y="483.5" width="2" height="6" fill="#000"/>
<line x1="1156.5" y1="489" x2="1156.5" y2="525"/>
<rect x="1155.5" y="490.5" width="2" height="33" fill="#000"/>
<line x1="1160.5" y1="518" x2="1160.5" y2="538"/>
<rect x="1159.5" y="521.5" width="2" height="2" fill="#fff"/>
<line x1="1163.5" y1="512" x2="1163.5" y2="548"/>
<rect x="1162.5" y="521.5" width="2" height="22" fill="#000"/>
<line x1="1167.5" y1="538" x2="1167.5" y2="594"/>
<rect x="1166.5" y="543.5" width="2" height="3" fill="#000"/>
<line x1="1171.5" y1="531" x2="1171.5" y2="582"/>
<rect x="1170.5" y="546.5" width="2" height="23" fill="#000"/>
<line x1="1175.5" y1="567" x2="1175.5" y2="667"/>
<rect x="1174.5" y="569.5" width="2" height="65" fill="#000"/>
<line x1="1179.5" y1="589" x2="1179.5" y2="662"/>
<rect x="1178.5" y="595.5" width="2" height="39" fill="#fff"/>
<line x1="1183.5" y1="545" x2="1183.5" y2="596"/>
<rect x="1182.5" y="546.5" width="2" height="48" fill="#fff"/>
<line x1="1187.5" y1="545" x2="1187.5" y2="589"/>
<rect x="1186.5" y="546.5" width="2" height="41" fill="#000"/>
<line x1="1190.5" y1="550" x2="1190.5" y2="591"/>
<rect x="1189.5" y="567.5" width="2" height="20" fill="#fff"/>
<line x1="1194.5" y1="543" x2="1194.5" y2="684"/>
<rect x="1193.5" y="567.5" width="2" height="95" fill="#000"/>
<line x1="1198.5" y1="653" x2="1198.5" y2="681"/>
<rect x="1197.5" y="664.5" width="2" height="5" fill="#000"/>
<line x1="1202.5" y1="632" x2="1202.5" y2="682"/>
<rect x="1201.5" y="634.5" width="2" height="35" fill="#fff"/>
<line x1="1206.5" y1="607" x2="1206.5" y2="644"/>
<rect x="1205.5" y="634.5" width="2" height="6" fill="#000"/>
<line x1="1210.5" y1="613" x2="1210.5" y2="641"/>
<rect x="1209.5" y="631.5" width="2" height="8" fill="#fff"/>
<line x1="1213.5" y1="617" x2="1213.5" y2="638"/>
<rect x="1212.5" y="622.5" width="2" height="8" fill="#fff"/>
<line x1="1217.5" y1="622" x2="1217.5" y2="657"/>
<rect x="1216.5" y="622.5" width="2" height="25" fill="#000"/>
<line x1="1221.5" y1="631" x2="1221.5" y2="653"/>
<rect x="1220.5" y="641.5" width="2" height="6" fill="#fff"/>
<line x1="1225.5" y1="631" x2="1225.5" y2="649"/>
<rect x="1224.5" y="640.5" width="2" height="0.01" fill="#000"/>
<line x1="1229.5" y1="633" x2="1229.5" y2="642"/>
<rect x="1228.5" y="638.5" width="2" height="2" fill="#fff"/>
<line x1="1233.5" y1="633" x2="1233.5" y2="656"/>
<rect x="1232.5" y="638.5" width="2" height="3" fill="#000"/>
<line x1="1236.5" y1="639" x2="1236.5" y2="653"/>
<rect x="1235.5" y="641.5" width="2" height="0.01" fill="#000"/>
<line x1="1240.5" y1="641" x2="1240.5" y2="658"/>
<rect x="1239.5" y="642.5" width="2" height="14" fill="#000"/>
<line x1="1244.5" y1="640" x2="1244.5" y2="657"/>
<rect x="1243.5" y="644.5" width="2" height="12" fill="#fff"/>
<line x1="1248.5" y1="642" x2="1248.5" y2="655"/>
<rect x="1247.5" y="644.5" width="2" height="9" fill="#000"/>
<line x1="1252.5" y1="653" x2="1252.5" y2="670"/>
<rect x="1251.5" y="654.5" width="2" height="14" fill="#000"/>
<line x1="1256.5" y1="668" x2="1256.5" y2="716"/>
<rect x="1255.5" y="669.5" width="2" height="39" fill="#000"/>
<line x1="1260.5" y1="652" x2="1260.5" y2="714"/>
<rect x="1259.5" y="666.5" width="2" height="42" fill="#fff"/>
<line x1="1263.5" y1="663" x2="1263.5" y2="681"/>
<rect x="1262.5" y="665.5" width="2" height="14" fill="#000"/>
<line x1="1267.5" y1="673" x2="1267.5" y2="695"/>
<rect x="1266.5" y="679.5" width="2" height="13" fill="#000"/>
<line x1="1271.5" y1="691" x2="1271.5" y2="734"/>
<rect x="1270.5" y="692.5" width="2" height="39" fill="#000"/>
<line x1="1275.5" y1="687" x2="1275.5" y2="733"/>
<rect x="1274.5" y="695.5" width="2" height="36" fill="#fff"/>
<line x1="1279.5" y1="668" x2="1279.5" y2="724"/>
<rect x="1278.5" y="695.5" width="2" height="12" fill="#000"/>
<line x1="1283.5" y1="696" x2="1283.5" y2="731"/>
<rect x="1282.5" y="704.5" width="2" height="3" fill="#fff"/>
<line x1="1286.5" y1="700" x2="1286.5" y2="785"/>
<rect x="1285.5" y="704.5" width="2" height="25" fill="#000"/>
<line x1="1290.5" y1="685" x2="1290.5" y2="738"/>
<rect x="1289.5" y="694.5" width="2" height="35" fill="#fff"/>
<line x1="1294.5" y1="689" x2="1294.5" y2="726"/>
<rect x="1293.5" y="694.5" width="2" height="13" fill="#000"/>
<line x1="1298.5" y1="693" x2="1298.5" y2="727"/>
<rect x="1297.5" y="698.5" width="2" height="9" fill="#fff"/>
<line x1="1302.5" y1="695" x2="1302.5" y2="709"/>
<rect x="1301.5" y="698.5" width="2" height="4" fill="#000"/>
<line x1="1306.5" y1="681" x2="1306.5" y2="703"/>
<rect x="1305.5" y="691.5" width="2" height="10" fill="#fff"/>
<line x1="1309.5" y1="691" x2="1309.5" y2="711"/>
<rect x="1308.5" y="691.5" width="2" height="12" fill="#000"/>
<line x1="1313.5" y1="685" x2="1313.5" y2="707"/>
<rect x="1312.5" y="689.5" width="2" height="15" fill="#fff"/>
<line x1="1317.5" y1="688" x2="1317.5" y2="714"/>
<rect x="1316.5" y="688.5" width="2" height="20" fill="#000"/>
<line x1="1321.5" y1="705" x2="1321.5" y2="713"/>
<rect x="1320.5" y="707.5" width="2" height="1" fill="#fff"/>
<line x1="1325.5" y1="705" x2="1325.5" y2="729"/>
<rect x="1324.5" y="707.5" width="2" height="10" fill="#000"/>
<line x1="1329.5" y1="705" x2="1329.5" y2="728"/>
<rect x="1328.5" y="717.5" width="2" height="0.01" fill="#000"/>
<line x1="1333.5" y1="685" x2="1333.5" y2="719"/>
<rect x="1332.5" y="694.5" width="2" height="23" fill="#fff"/>
<line x1="1336.5" y1="680" x2="1336.5" y2="700"/>
<rect x="1335.5" y="691.5" width="2" height="2" fill="#fff"/>
<line x1="1340.5" y1="685" x2="1340.5" y2="705"/>
<rect x="1339.5" y="688.5" width="2" height="2" fill="#fff"/>
<line x1="1344.5" y1="665" x2="1344.5" y2="698"/>
<rect x="1343.5" y="689.5" width="2" height="1" fill="#000"/>
<line x1="1348.5" y1="685" x2="1348.5" y2="720"/>
<rect x="1347.5" y="691.5" width="2" height="26" fill="#000"/>
<line x1="1352.5" y1="680" x2="1352.5" y2="718"/>
<rect x="1351.5" y="690.5" width="2" height="27" fill="#fff"/>
<line x1="1356.5" y1="656" x2="1356.5" y2="703"/>
<rect x="1355.5" y="665.5" width="2" height="24" fill="#fff"/>
<line x1="1359.5" y1="657" x2="1359.5" y2="707"/>
<rect x="1358.5" y="665.5" width="2" height="22" fill="#000"/>
<line x1="1363.5" y1="670" x2="1363.5" y2="696"/>
<rect x="1362.5" y="683.5" width="2" height="4" fill="#fff"/>
<line x1="1367.5" y1="678" x2="1367.5" y2="698"/>
<rect x="1366.5" y="683.5" width="2" height="0.01" fill="#000"/>
<line x1="1371.5" y1="649" x2="1371.5" y2="685"/>
<rect x="1370.5" y="658.5" width="2" height="26" fill="#fff"/>
<line x1="1375.5" y1="640" x2="1375.5" y2="676"/>
<rect x="1374.5" y="658.5" width="2" height="12" fill="#000"/>
<line x1="1379.5" y1="655" x2="1379.5" y2="683"/>
<rect x="1378.5" y="671.5" width="2" height="6" fill="#000"/>
<line x1="1383.5" y1="655" x2="1383.5" y2="692"/>
<rect x="1382.5" y="656.5" width="2" height="21" fill="#fff"/>
<line x1="1386.5" y1="638" x2="1386.5" y2="671"/>
<rect x="1385.5" y="647.5" width="2" height="8" fill="#fff"/>
<line x1="1390.5" y1="646" x2="1390.5" y2="677"/>
<rect x="1389.5" y="647.5" width="2" height="18" fill="#000"/>
<line x1="1394.5" y1="655" x2="1394.5" y2="695"/>
<rect x="1393.5" y="665.5" width="2" height="29" fill="#000"/>
<line x1="1398.5" y1="679" x2="1398.5" y2="696"/>
<rect x="1397.5" y="688.5" width="2" height="6" fill="#fff"/>
<line x1="1402.5" y1="670" x2="1402.5" y2="688"/>
<rect x="1401.5" y="683.5" width="2" height="4" fill="#fff"/>
<line x1="1406.5" y1="674" x2="1406.5" y2="700"/>
<rect x="1405.5" y="683.5" width="2" height="5" fill="#000"/>
<line x1="1409.5" y1="672" x2="1409.5" y2="689"/>
<rect x="1408.5" y="682.5" width="2" height="6" fill="#fff"/>
<line x1="1413.5" y1="675" x2="1413.5" y2="685"/>
<rect x="1412.5" y="676.5" width="2" height="5" fill="#fff"/>
<line x1="1417.5" y1="670" x2="1417.5" y2="678"/>
<rect x="1416.5" y="676.5" width="2" height="0.01" fill="#000"/>
<line x1="1421.5" y1="671" x2="1421.5" y2="678"/>
<rect x="1420.5" y="673.5" width="2" height="3" fill="#fff"/>
<line x1="1425.5" y1="665" x2="1425.5" y2="677"/>
<rect x="1424.5" y="666.5" width="2" height="6" fill="#fff"/>
<line x1="1429.5" y1="664" x2="1429.5" y2="675"/>
<rect x="1428.5" y="666.5" width="2" height="3" fill="#000"/>
<line x1="1432.5" y1="656" x2="1432.5" y2="671"/>
<rect x="1431.5" y="661.5" width="2" height="8" fill="#fff"/>
<line x1="1436.5" y1="650" x2="1436.5" y2="670"/>
<rect x="1435.5" y="661.5" width="2" height="0.01" fill="#000"/>
<line x1="1440.5" y1="622" x2="1440.5" y2="665"/>
<rect x="1439.5" y="638.5" width="2" height="23" fill="#fff"/>
<line x1="1444.5" y1="625" x2="1444.5" y2="673"/>
<rect x="1443.5" y="638.5" width="2" height="33" fill="#000"/>
<line x1="1448.5" y1="654" x2="1448.5" y2="699"/>
<rect x="1447.5" y="660.5" width="2" height="11" fill="#fff"/>
<line x1="1452.5" y1="643" x2="1452.5" y2="673"/>
<rect x="1451.5" y="660.5" width="2" height="10" fill="#000"/>
<line x1="1456.5" y1="668" x2="1456.5" y2="710"/>
<rect x="1455.5" y="670.5" width="2" height="26" fill="#000"/>
<line x1="1459.5" y1="644" x2="1459.5" y2="699"/>
<rect x="1458.5" y="656.5" width="2" height="40" fill="#fff"/>
<line x1="1463.5" y1="591" x2="1463.5" y2="694"/>
<rect x="1462.5" y="647.5" width="2" height="8" fill="#fff"/>
<line x1="1467.5" y1="586" x2="1467.5" y2="649"/>
<rect x="1466.5" y="605.5" width="2" height="42" fill="#fff"/>
<line x1="1471.5" y1="594" x2="1471.5" y2="644"/>
<rect x="1470.5" y="605.5" width="2" height="3" fill="#000"/>
<line x1="1475.5" y1="563" x2="1475.5" y2="610"/>
<rect x="1474.5" y="597.5" width="2" height="11" fill="#fff"/>
<line x1="1479.5" y1="586" x2="1479.5" y2="612"/>
<rect x="1478.5" y="591.5" width="2" height="5" fill="#fff"/>
<line x1="1482.5" y1="568" x2="1482.5" y2="599"/>
<rect x="1481.5" y="574.5" width="2" height="17" fill="#fff"/>
<line x1="1486.5" y1="559" x2="1486.5" y2="575"/>
<rect x="1485.5" y="567.5" width="2" height="6" fill="#fff"/>
<line x1="1490.5" y1="564" x2="1490.5" y2="589"/>
<rect x="1489.5" y="567.5" width="2" height="20" fill="#000"/>
<line x1="1494.5" y1="545" x2="1494.5" y2="594"/>
<rect x="1493.5" y="558.5" width="2" height="29" fill="#fff"/>
<line x1="1498.5" y1="558" x2="1498.5" y2="574"/>
<rect x="1497.5" y="558.5" width="2" height="5" fill="#000"/>
<line x1="1502.5" y1="562" x2="1502.5" y2="577"/>
<rect x="1501.5" y="564.5" width="2" height="10" fill="#000"/>
<line x1="1506.5" y1="571" x2="1506.5" y2="578"/>
<rect x="1505.5" y="572.5" width="2" height="2" fill="#fff"/>
<line x1="1509.5" y1="537" x2="1509.5" y2="574"/>
<rect x="1508.5" y="541.5" width="2" height="31" fill="#fff"/>
<line x1="1513.5" y1="540" x2="1513.5" y2="563"/>
<rect x="1512.5" y="541.5" width="2" height="20" fill="#000"/>
<line x1="1517.5" y1="558" x2="1517.5" y2="566"/>
<rect x="1516.5" y="560.5" width="2" height="2" fill="#fff"/>
<line x1="1521.5" y1="558" x2="1521.5" y2="571"/>
<rect x="1520.5" y="561.5" width="2" height="8" fill="#000"/>
<line x1="1525.5" y1="546" x2="1525.5" y2="573"/>
<rect x="1524.5" y="561.5" width="2" height="9" fill="#fff"/>
<line x1="1529.5" y1="546" x2="1529.5" y2="570"/>
<rect x="1528.5" y="546.5" width="2" height="15" fill="#fff"/>
</g>
<rect x="0" y="31.6" width="1757" height="79.4" fill="rgba(150,0,0,0.23)"/>
<rect x="0" y="537.2" width="1757" height="92.2" fill="rgba(0,255,0,0.23)"/>
<g stroke="#0c5090" stroke-width="2" stroke-dasharray="4 2" fill="none">
<line x1="-0.45" y1="31.55" x2="1756" y2="31.55"/>
<line x1="-0.45" y1="119.55" x2="1756" y2="119.55"/>
<line x1="-0.45" y1="541.45" x2="1756" y2="541.45"/>
<line x1="-0.45" y1="629.55" x2="1756" y2="629.55"/>
</g>
<g shape-rendering="crispEdges">
<rect x="1758" y="0" width="60" height="854" fill="#fff"/>
<rect x="0" y="827" width="1818" height="27" fill="#fff"/>
<rect x="1758" y="0" width="1" height="853" fill="#555"/>
<rect x="0" y="827" width="1814" height="1" fill="#555"/>
<rect x="1759" y="17" width="4" height="1" fill="#555"/>
<rect x="1759" y="56" width="4" height="1" fill="#555"/>
<rect x="1759" y="95" width="4" height="1" fill="#555"/>
<rect x="1759" y="133" width="4" height="1" fill="#555"/>
<rect x="1759" y="172" width="4" height="1" fill="#555"/>
<rect x="1759" y="211" width="4" height="1" fill="#555"/>
<rect x="1759" y="249" width="4" height="1" fill="#555"/>
<rect x="1759" y="288" width="4" height="1" fill="#555"/>
<rect x="1759" y="327" width="4" height="1" fill="#555"/>
<rect x="1759" y="365" width="4" height="1" fill="#555"/>
<rect x="1759" y="404" width="4" height="1" fill="#555"/>
<rect x="1759" y="443" width="4" height="1" fill="#555"/>
<rect x="1759" y="481" width="4" height="1" fill="#555"/>
<rect x="1759" y="520" width="4" height="1" fill="#555"/>
<rect x="1759" y="559" width="4" height="1" fill="#555"/>
<rect x="1759" y="597" width="4" height="1" fill="#555"/>
<rect x="1759" y="636" width="4" height="1" fill="#555"/>
<rect x="1759" y="675" width="4" height="1" fill="#555"/>
<rect x="1759" y="713" width="4" height="1" fill="#555"/>
<rect x="1759" y="752" width="4" height="1" fill="#555"/>
<rect x="1759" y="791" width="4" height="1" fill="#555"/>
<rect x="27" y="828" width="1" height="3" fill="#555"/>
<rect x="119" y="828" width="1" height="3" fill="#555"/>
<rect x="211" y="828" width="1" height="3" fill="#555"/>
<rect x="304" y="828" width="1" height="3" fill="#555"/>
<rect x="396" y="828" width="1" height="3" fill="#555"/>
<rect x="488" y="828" width="1" height="3" fill="#555"/>
<rect x="580" y="828" width="1" height="3" fill="#555"/>
<rect x="672" y="828" width="1" height="3" fill="#555"/>
<rect x="765" y="828" width="1" height="3" fill="#555"/>
<rect x="857" y="828" width="1" height="3" fill="#555"/>
<rect x="949" y="828" width="1" height="3" fill="#555"/>
<rect x="1041" y="828" width="1" height="3" fill="#555"/>
<rect x="1134" y="828" width="1" height="3" fill="#555"/>
<rect x="1226" y="828" width="1" height="3" fill="#555"/>
<rect x="1318" y="828" width="1" height="3" fill="#555"/>
<rect x="1410" y="828" width="1" height="3" fill="#555"/>
<rect x="1503" y="828" width="1" height="3" fill="#555"/>
<rect x="1595" y="828" width="1" height="3" fill="#555"/>
<rect x="1687" y="828" width="1" height="3" fill="#555"/>
</g>
<g font-size="11" fill="#555">
<text x="1767.2" y="21.75" textLength="38.6" lengthAdjust="spacingAndGlyphs">4.81500</text>
<text x="1767.2" y="60.75" textLength="38.6" lengthAdjust="spacingAndGlyphs">4.81000</text>
<text x="1767.2" y="99.75" textLength="38.6" lengthAdjust="spacingAndGlyphs">4.80500</text>
<text x="1767.2" y="137.75" textLength="38.6" lengthAdjust="spacingAndGlyphs">4.80000</text>
<text x="1767.2" y="176.75" textLength="38.6" lengthAdjust="spacingAndGlyphs">4.79500</text>
<text x="1767.2" y="215.75" textLength="38.6" lengthAdjust="spacingAndGlyphs">4.79000</text>
<text x="1767.2" y="253.75" textLength="38.6" lengthAdjust="spacingAndGlyphs">4.78500</text>
<text x="1767.2" y="292.75" textLength="38.6" lengthAdjust="spacingAndGlyphs">4.78000</text>
<text x="1767.2" y="331.75" textLength="38.6" lengthAdjust="spacingAndGlyphs">4.77500</text>
<text x="1767.2" y="369.75" textLength="38.6" lengthAdjust="spacingAndGlyphs">4.77000</text>
<text x="1767.2" y="408.75" textLength="38.6" lengthAdjust="spacingAndGlyphs">4.76500</text>
<text x="1767.2" y="447.75" textLength="38.6" lengthAdjust="spacingAndGlyphs">4.76000</text>
<text x="1767.2" y="485.75" textLength="38.6" lengthAdjust="spacingAndGlyphs">4.75500</text>
<text x="1767.2" y="524.75" textLength="38.6" lengthAdjust="spacingAndGlyphs">4.75000</text>
<text x="1767.2" y="563.75" textLength="38.6" lengthAdjust="spacingAndGlyphs">4.74500</text>
<text x="1767.2" y="601.75" textLength="38.6" lengthAdjust="spacingAndGlyphs">4.74000</text>
<text x="1767.2" y="640.75" textLength="38.6" lengthAdjust="spacingAndGlyphs">4.73500</text>
<text x="1767.2" y="679.75" textLength="38.6" lengthAdjust="spacingAndGlyphs">4.73000</text>
<text x="1767.2" y="717.75" textLength="38.6" lengthAdjust="spacingAndGlyphs">4.72500</text>
<text x="1767.2" y="756.75" textLength="38.6" lengthAdjust="spacingAndGlyphs">4.72000</text>
<text x="1767.2" y="795.75" textLength="38.6" lengthAdjust="spacingAndGlyphs">4.71500</text>
<text x="26.6" y="846" text-anchor="middle" textLength="11.6" lengthAdjust="spacingAndGlyphs">14</text>
<text x="118.6" y="846" text-anchor="middle" textLength="11.6" lengthAdjust="spacingAndGlyphs">17</text>
<text x="210.6" y="846" text-anchor="middle" textLength="11.6" lengthAdjust="spacingAndGlyphs">18</text>
<text x="303.6" y="846" text-anchor="middle" textLength="11.6" lengthAdjust="spacingAndGlyphs">19</text>
<text x="395.6" y="846" text-anchor="middle" textLength="11.6" lengthAdjust="spacingAndGlyphs">20</text>
<text x="487.6" y="846" text-anchor="middle" textLength="11.6" lengthAdjust="spacingAndGlyphs">21</text>
<text x="579.6" y="846" text-anchor="middle" textLength="11.6" lengthAdjust="spacingAndGlyphs">24</text>
<text x="671.6" y="846" text-anchor="middle" textLength="11.6" lengthAdjust="spacingAndGlyphs">25</text>
<text x="764.6" y="846" text-anchor="middle" textLength="11.6" lengthAdjust="spacingAndGlyphs">26</text>
<text x="856.6" y="846" text-anchor="middle" textLength="11.6" lengthAdjust="spacingAndGlyphs">27</text>
<text x="948.6" y="846" text-anchor="middle" textLength="11.6" lengthAdjust="spacingAndGlyphs">28</text>
<text x="1040.6" y="846" text-anchor="middle" textLength="15.6" lengthAdjust="spacingAndGlyphs">Lip</text>
<text x="1133.6" y="846" text-anchor="middle">2</text>
<text x="1225.6" y="846" text-anchor="middle">3</text>
<text x="1317.6" y="846" text-anchor="middle">4</text>
<text x="1409.6" y="846" text-anchor="middle">5</text>
<text x="1502.6" y="846" text-anchor="middle">8</text>
<text x="1594.6" y="846" text-anchor="middle">9</text>
<text x="1686.6" y="846" text-anchor="middle" textLength="11.6" lengthAdjust="spacingAndGlyphs">10</text>
</g>
<g shape-rendering="crispEdges">
<rect x="1758" y="23" width="56" height="17" fill="#0c5090"/>
<rect x="1758" y="31" width="4" height="1" fill="#fff"/>
<rect x="1758" y="111" width="56" height="17" fill="#0c5090"/>
<rect x="1758" y="119" width="4" height="1" fill="#fff"/>
<rect x="1758" y="533" width="56" height="17" fill="#0c5090"/>
<rect x="1758" y="541" width="4" height="1" fill="#fff"/>
<rect x="1758" y="621" width="56" height="17" fill="#0c5090"/>
<rect x="1758" y="629" width="4" height="1" fill="#fff"/>
<rect x="1758" y="550" width="56" height="17" fill="#fff"/>
<rect x="1758" y="558" width="4" height="1" fill="#000"/>
</g>
<g font-size="11" font-weight="bold" fill="#fff">
<text x="1767" y="35.1" textLength="38.6" lengthAdjust="spacingAndGlyphs">4.81329</text>
<text x="1767" y="123.1" textLength="38.6" lengthAdjust="spacingAndGlyphs">4.80191</text>
<text x="1767" y="545.1" textLength="38.6" lengthAdjust="spacingAndGlyphs">4.74730</text>
<text x="1767" y="633.1" textLength="38.6" lengthAdjust="spacingAndGlyphs">4.73592</text>
</g>
<text x="1767.2" y="562.2" font-size="11" fill="#000" textLength="38.6" lengthAdjust="spacingAndGlyphs">4.74660</text>
<rect x="1814" y="0" width="4" height="854" fill="#e0e3ed" shape-rendering="crispEdges"/>
<rect x="0" y="853" width="1818" height="1" fill="#e0e3ed" shape-rendering="crispEdges"/>
<g stroke="#131722" stroke-width="1.2" fill="none"><circle cx="1785.5" cy="841.5" r="4.6"/>
<line x1="1790.70" y1="841.50" x2="1792.80" y2="841.50"/>
<line x1="1789.18" y1="845.18" x2="1790.66" y2="846.66"/>
<line x1="1785.50" y1="846.70" x2="1785.50" y2="848.80"/>
<line x1="1781.82" y1="845.18" x2="1780.34" y2="846.66"/>
<line x1="1780.30" y1="841.50" x2="1778.20" y2="841.50"/>
<line x1="1781.82" y1="837.82" x2="1780.34" y2="836.34"/>
<line x1="1785.50" y1="836.30" x2="1785.50" y2="834.20"/>
<line x1="1789.18" y1="837.82" x2="1790.66" y2="836.34"/>
</g>
<rect x="12.5" y="12.5" width="12" height="12" rx="1.6" fill="#fff" stroke="#666a7b" stroke-width="1.1"/>
<rect x="14" y="18" width="9" height="1" fill="#666a7b" shape-rendering="crispEdges"/>
<path d="M35 12 H47 L43.5 18.5 L47 25 H35 Z" fill="#ff5252"/>
<path d="M359.8 15.8 l3.6 3.4 l3.6 -3.4" fill="none" stroke="#1c1c28" stroke-width="1.4"/>
<path d="M105.9 42.3 l3.6 3.4 l3.6 -3.4" fill="none" stroke="#1c1c28" stroke-width="1.4"/>
<rect x="124" y="36" width="14" height="13.6" rx="2" fill="#c1c5d3"/>
<rect x="141" y="36" width="14" height="13.6" rx="2" fill="#c1c5d3"/>
<rect x="158" y="36" width="14" height="13.6" rx="2" fill="#c1c5d3"/>
<path d="M125.4 43 C127.8 36.9 134.2 36.9 136.6 43 C134.2 49.1 127.8 49.1 125.4 43 Z" fill="#fff"/><circle cx="131" cy="43" r="1.9" fill="none" stroke="#c1c5d3" stroke-width="1.3"/>
<g stroke="#fff" fill="none">
<circle cx="148" cy="43" r="2.9" stroke-width="2.3"/>
<line x1="151.40" y1="43.00" x2="153.10" y2="43.00" stroke-width="2"/>
<line x1="150.40" y1="45.40" x2="151.61" y2="46.61" stroke-width="2"/>
<line x1="148.00" y1="46.40" x2="148.00" y2="48.10" stroke-width="2"/>
<line x1="145.60" y1="45.40" x2="144.39" y2="46.61" stroke-width="2"/>
<line x1="144.60" y1="43.00" x2="142.90" y2="43.00" stroke-width="2"/>
<line x1="145.60" y1="40.60" x2="144.39" y2="39.39" stroke-width="2"/>
<line x1="148.00" y1="39.60" x2="148.00" y2="37.90" stroke-width="2"/>
<line x1="150.40" y1="40.60" x2="151.61" y2="39.39" stroke-width="2"/>
<path d="M160.6 38.8 l8.8 8.6 M169.4 38.8 l-8.8 8.6" stroke-width="1.8"/>
</g>
</svg>
<div class="t b" style="left:52.3px;top:10.7px;font-size:16px;color:#404040;transform:scaleX(0.996);">Funt</div>
<div class="t b" style="left:90.8px;top:10.7px;font-size:16px;color:#404040;letter-spacing:0.57px;">szterling</div>
<div class="t b" style="left:162.6px;top:10.7px;font-size:16px;color:#404040;letter-spacing:0.00px;">/</div>
<div class="t b" style="left:175.6px;top:10.7px;font-size:16px;color:#404040;transform:scaleX(0.968);">Polski</div>
<div class="t b" style="left:224.2px;top:10.7px;font-size:16px;color:#404040;letter-spacing:0.41px;">Złoty</div>
<div class="t b" style="left:265.6px;top:10.7px;font-size:16px;color:#9a9a9a;letter-spacing:0.00px;">·</div>
<div class="t b" style="left:274.5px;top:10.7px;font-size:16px;color:#404040;transform:scaleX(0.927);">60</div>
<div class="t b" style="left:295.5px;top:10.7px;font-size:16px;color:#9a9a9a;letter-spacing:0.00px;">·</div>
<div class="t b" style="left:304.4px;top:10.7px;font-size:16px;color:#404040;transform:scaleX(0.902);">OANDA</div>
<div class="t" style="left:386.3px;top:14px;font-size:12px;color:#333;letter-spacing:0.03px;">+0.00183</div>
<div class="t" style="left:443.0px;top:14px;font-size:12px;color:#333;transform:scaleX(0.963);">(+0.04%)</div>
<div class="t" style="left:12.4px;top:38px;font-size:12px;color:#555;transform:scaleX(0.927);">EMA</div>
<div class="t" style="left:40.5px;top:38px;font-size:12px;color:#555;letter-spacing:0.37px;">(50,</div>
<div class="t" style="left:66.5px;top:38px;font-size:12px;color:#555;letter-spacing:0.46px;">close)</div>
<div class="t" style="left:180.4px;top:38px;font-size:12px;color:#2d50b4;letter-spacing:0.30px;">4.73714</div>
</body></html>
